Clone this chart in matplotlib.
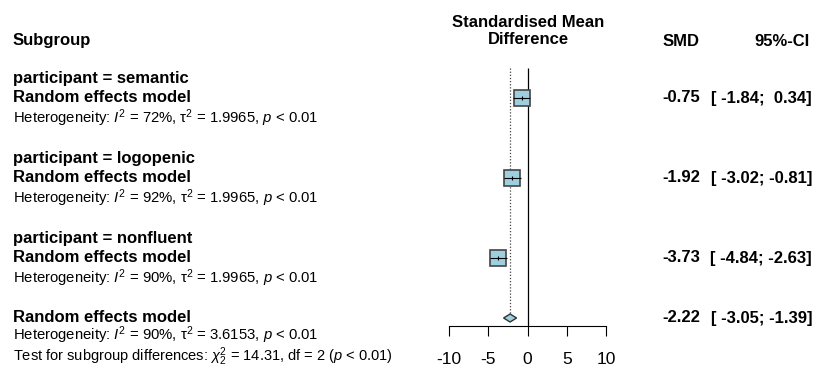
import matplotlib
matplotlib.use("Agg")
import matplotlib.pyplot as plt
from matplotlib.patches import Rectangle, Polygon
from matplotlib.transforms import blended_transform_factory

plt.rcParams["font.family"] = ["Liberation Sans", "DejaVu Sans"]
plt.rcParams["mathtext.fontset"] = "custom"
plt.rcParams["mathtext.rm"] = "Liberation Sans"
plt.rcParams["mathtext.it"] = "Liberation Sans:italic"

# data
groups = ["semantic", "logopenic", "nonfluent"]
smd = [-0.75, -1.92, -3.73]
ci_lo = [-1.84, -3.02, -4.84]
ci_hi = [0.34, -0.81, -2.63]
i2 = [72, 92, 90]
tau2 = [1.9965, 1.9965, 1.9965]

overall_smd = -2.22
overall_lo = -3.05
overall_hi = -1.39
overall_i2 = 90
overall_tau2 = 3.6153
chi2 = 14.31
chi2_df = 2

xticks = [-10, -5, 0, 5, 10]

# layout (pixels)
W, H = 813, 367
fill = "#9dcfdf"
edge = "#444444"

fig = plt.figure(figsize=(W / 100, H / 100), dpi=100)
ax = fig.add_axes([449 / W, (H - 326) / H, (606 - 449) / W, 326 / H])
ax.set_xlim(-10, 10)
ax.set_ylim(12.4, -3.9)
for s in ["left", "right", "top"]:
    ax.spines[s].set_visible(False)
ax.spines["bottom"].set_linewidth(0.8)
ax.set_xticks(xticks)
ax.set_xticklabels([str(t) for t in xticks])
ax.set_yticks([])
ax.tick_params(axis="x", direction="out", length=7.5, width=0.8, pad=11, labelsize=12.5)
ax.patch.set_visible(False)

px_per_unit = (606 - 449) / 20
row_px = 20

# reference lines
ax.vlines(0, -0.5, 12.4, color="black", lw=0.9, clip_on=False)
ax.vlines(overall_smd, -0.5, 11.75, color="#444444", lw=0.9, linestyles=(0, (1, 1.5)), clip_on=False)

tr = blended_transform_factory(fig.transFigure, ax.transData)
bold = dict(fontsize=12, fontweight="bold", va="center", transform=tr)
reg = dict(fontsize=10.7, va="center", transform=tr)

def txt(xpx, row, s, style, ha="left"):
    ax.text(xpx / W, row, s, ha=ha, **style)

def ci_str(lo, hi):
    return "[%6.2f; %5.2f]" % (lo, hi)

# headers
txt(13, -1.85, "Subgroup", bold)
ax.text(528 / W, -2.35, "Standardised Mean\nDifference", ha="center", linespacing=1.15,
        fontsize=12, fontweight="bold", va="center", transform=tr)
txt(700, -1.85, "SMD", bold, ha="right")
txt(810, -1.85, "95%-CI", bold, ha="right")

sq = 16
for i, g in enumerate(groups):
    r0 = i * 4
    txt(13, r0, "participant = " + g, bold)
    txt(13, r0 + 1, "Random effects model", bold)
    txt(13, r0 + 2, "Heterogeneity: $I^2$ = %d%%, τ$^2$ = %.4f, $p$ < 0.01" % (i2[i], tau2[i]), reg)
    w = sq / px_per_unit
    h = sq / row_px
    ax.add_patch(Rectangle((smd[i] - w / 2, r0 + 1 - h / 2), w, h, facecolor=fill,
                           edgecolor=edge, lw=1.2, clip_on=False, zorder=3))
    ax.hlines(r0 + 1, ci_lo[i], ci_hi[i], color="black", lw=0.8, clip_on=False, zorder=4)
    ax.vlines(smd[i], r0 + 1 - 0.12, r0 + 1 + 0.12, color="black", lw=0.8, clip_on=False, zorder=4)
    txt(700, r0 + 1, "%.2f" % smd[i], bold, ha="right")
    txt(812, r0 + 1, ci_str(ci_lo[i], ci_hi[i]), bold, ha="right")

# overall
ro = 12
txt(13, ro - 0.03, "Random effects model", bold)
txt(13, ro + 0.88, "Heterogeneity: $I^2$ = %d%%, τ$^2$ = %.4f, $p$ < 0.01" % (overall_i2, overall_tau2), reg)
ax.text(13 / W, ro + 1.91,
        r"Test for subgroup differences: $\chi^2_2$ = %.2f, df = %d ($p$ < 0.01)" % (chi2, chi2_df),
        ha="left", fontsize=10.5, va="center", transform=tr)
ax.add_patch(Polygon([(overall_lo, ro), (overall_smd, ro - 0.2), (overall_hi, ro), (overall_smd, ro + 0.2)],
                     closed=True, facecolor=fill, edgecolor="#333333", lw=1.0, clip_on=False, zorder=3))
txt(700, ro, "%.2f" % overall_smd, bold, ha="right")
txt(812, ro, ci_str(overall_lo, overall_hi), bold, ha="right")

fig.savefig("out.png", dpi=100)
